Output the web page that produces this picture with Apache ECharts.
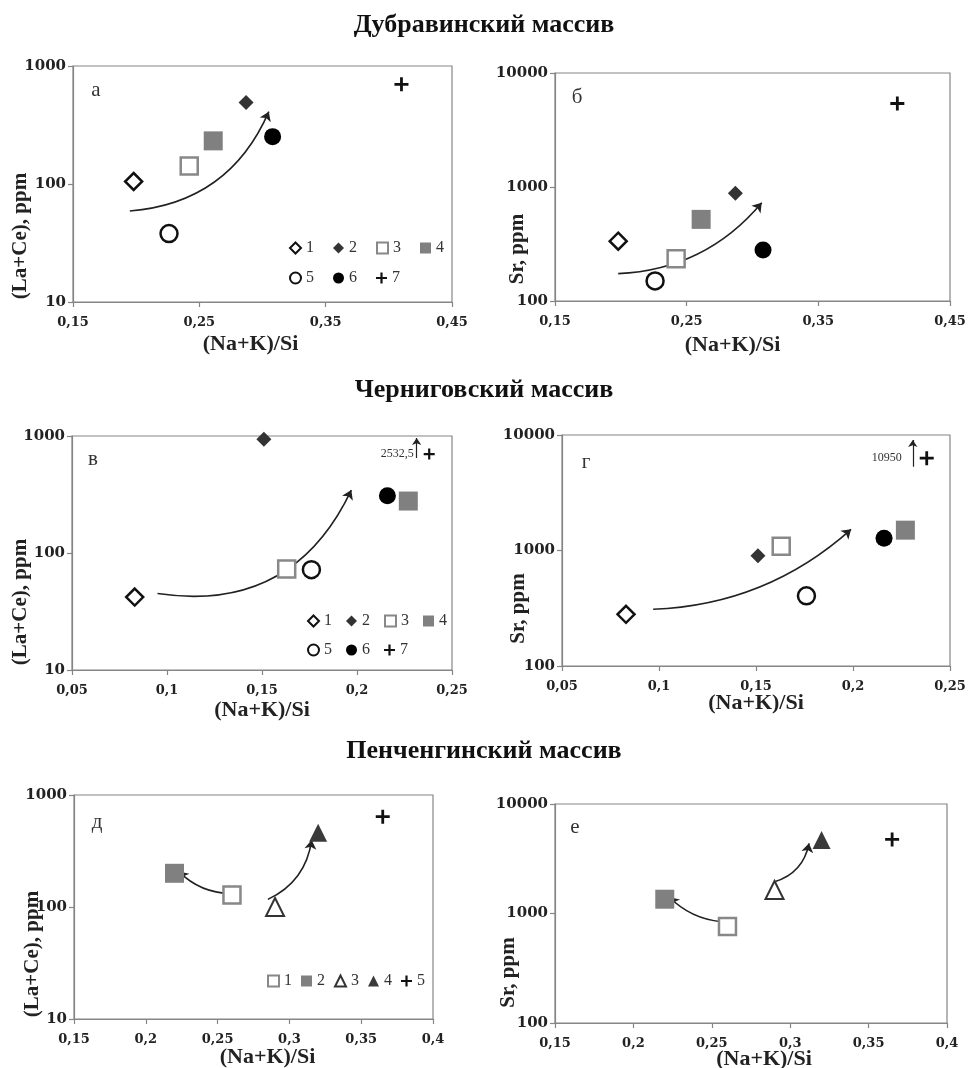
<!DOCTYPE html>
<html>
<head>
<meta charset="utf-8">
<title>(Na+K)/Si — (La+Ce), Sr</title>
<script src="https://cdn.jsdelivr.net/npm/echarts@6.0.0/dist/echarts.min.js"></script>
<style>
html, body { margin: 0; padding: 0; background: #fff; }
#main { width: 968px; height: 1068px; }
</style>
</head>
<body>
<div id="main"></div>
<script>
// ---- данные ----
// Дубравинский массив, группы 1..7
var dubX = [0.198, 0.287, 0.242, 0.261, 0.226, 0.308, 0.41];
var dubLaCe = [105, 490, 142, 232, 38, 252, 700];
var dubSr = [335, 880, 235, 520, 150, 280, 5400];
var dubTicks = [0.15, 0.25, 0.35, 0.45];
// Черниговский массив, группы 1..7 (точка 7 за пределами шкалы)
var chernX = [0.083, 0.151, 0.163, 0.227, 0.176, 0.216, 0.238];
var chernLaCe = [42, 940, 73, 278, 72, 309, 700];
var chernSr = [280, 900, 1090, 1500, 405, 1275, 6300];
var chernOffScale = ['2532,5', '10950'];
var chernTicks = [0.05, 0.1, 0.15, 0.2, 0.25];
// Пенченгинский массив, группы 1..5
var penX = [0.26, 0.22, 0.29, 0.32, 0.365];
var penLaCe = [128, 200, 100, 460, 640];
var penSr = [760, 1350, 1640, 4700, 4750];
var penTicks = [0.15, 0.2, 0.25, 0.3, 0.35, 0.4];

// стрелки трендов: [начало, конец]
var dubTrendLaCe = [[[0.195, 59], [0.305, 410]]];
var dubTrendSr = [[[0.198, 174], [0.307, 728]]];
var chernTrendLaCe = [[[0.095, 45], [0.197, 345]]];
var chernTrendSr = [[[0.097, 310], [0.199, 1525]]];
var penTrendLaCe = [[[0.259, 132], [0.223, 207]], [[0.285, 117], [0.3155, 396]]];
var penTrendSr = [[[0.256, 842], [0.223, 1406]], [[0.290, 1950], [0.312, 4375]]];
// стрелки "вне шкалы" для точки 7
var chernUpLaCe = [[0.2314, 650], [0.2314, 960]];
var chernUpSr = [[0.2308, 5300], [0.2308, 9050]];

// ---- оформление ----
var SERIF = '"Liberation Serif", "Times New Roman", serif';
var WIDE = '"DejaVu Serif", serif';
var FRAME = '#858585';
var PLUS = 'path://M4,0H6V4H10V6H6V10H4V6H0V4H4Z';

var dubStyle = [
	{ symbol : 'diamond', size : 17, color : '#fff', border : '#111', bw : 2.5 },
	{ symbol : 'diamond', size : 15, color : '#333' },
	{ symbol : 'rect', size : 17, color : '#fff', border : '#888', bw : 2.5 },
	{ symbol : 'rect', size : 19, color : '#808080' },
	{ symbol : 'circle', size : 17, color : '#fff', border : '#111', bw : 2.5 },
	{ symbol : 'circle', size : 17, color : '#000' },
	{ symbol : PLUS, size : 14, color : '#111' }
];
var penStyle = [
	{ symbol : 'rect', size : 17, color : '#fff', border : '#888', bw : 2.5 },
	{ symbol : 'rect', size : 19, color : '#808080' },
	{ symbol : 'triangle', size : 18, color : '#fff', border : '#333', bw : 2 },
	{ symbol : 'triangle', size : 18, color : '#3a3a3a' },
	{ symbol : PLUS, size : 14, color : '#111' }
];

// yShift / xShift - смещение подписей осей вдоль оси (как в исходнике Excel)
var panels = [
	{ id : 'a', box : [73, 66, 379, 236], xs : dubX, ys : dubLaCe, styles : dubStyle, ticks : dubTicks,
		xr : [0.15, 0.45], yr : [10, 1000], yName : '(La+Ce), ppm', yGap : 42, xGap : 31, yShift : 52, xShift : -12,
		trends : dubTrendLaCe, curv : [-0.3] },
	{ id : 'b', box : [555, 73, 395, 228], xs : dubX, ys : dubSr, styles : dubStyle, ticks : dubTicks,
		xr : [0.15, 0.45], yr : [100, 10000], yName : 'Sr, ppm', yGap : 27, xGap : 33, yShift : 62, xShift : -20,
		trends : dubTrendSr, curv : [-0.22] },
	{ id : 'v', box : [72, 436, 380, 234], xs : chernX, ys : chernLaCe, styles : dubStyle, ticks : chernTicks,
		xr : [0.05, 0.25], yr : [10, 1000], yName : '(La+Ce), ppm', yGap : 41, xGap : 29, yShift : 49, xShift : 0,
		trends : chernTrendLaCe, curv : [-0.37], up : chernUpLaCe, upText : chernOffScale[0], upDist : 10, plusSize : 11 },
	{ id : 'g', box : [562, 435, 388, 231], xs : chernX, ys : chernSr, styles : dubStyle, ticks : chernTicks,
		xr : [0.05, 0.25], yr : [100, 10000], yName : 'Sr, ppm', yGap : 33, xGap : 26, yShift : 58, xShift : 0,
		trends : chernTrendSr, curv : [-0.18], up : chernUpSr, upText : chernOffScale[1], upDist : 18 },
	{ id : 'd', box : [74, 795, 359, 224], xs : penX, ys : penLaCe, styles : penStyle, ticks : penTicks,
		xr : [0.15, 0.4], yr : [10, 1000], yName : '(La+Ce), ppm', yGap : 31, xGap : 27, yShift : 47, xShift : 14,
		trends : penTrendLaCe, curv : [0.2, -0.27] },
	{ id : 'e', box : [555, 804, 392, 219], xs : penX, ys : penSr, styles : penStyle, ticks : penTicks,
		xr : [0.15, 0.4], yr : [100, 10000], yName : 'Sr, ppm', yGap : 36, xGap : 25, yShift : 59, xShift : 13,
		trends : penTrendSr, curv : [0.18, -0.3] }
];

function fmtX(v) {
	return String(+(+v).toFixed(2)).replace('.', ',');
}
function fmtY(v) {
	return String(Math.round(v));
}
function legendName(name) {
	return name.split('-')[1];
}

var myChart = echarts.init(document.getElementById('main'));

var titleStyle = { fontFamily : SERIF, fontWeight : 'bold', fontSize : 26, color : '#111' };
var legendText = { fontFamily : SERIF, fontSize : 16, color : '#333' };

var option = {
	animation : false,
	backgroundColor : '#fff',
	title : [
		{ text : 'Дубравинский массив', left : 'center', top : 12, padding : 0, textStyle : titleStyle },
		{ text : 'Черниговский массив', left : 'center', top : 377, padding : 0, textStyle : titleStyle },
		{ text : 'Пенченгинский массив', left : 'center', top : 738, padding : 0, textStyle : titleStyle }
	],
	graphic : [],
	legend : [
		{ data : ['a-1', 'a-2', 'a-3', 'a-4'], left : 289, top : 240, itemGap : 19 },
		{ data : ['a-5', 'a-6', 'a-7'], left : 289, top : 270, itemGap : 19 },
		{ data : ['v-1', 'v-2', 'v-3', 'v-4'], left : 307, top : 613, itemGap : 14 },
		{ data : ['v-5', 'v-6', 'v-7'], left : 307, top : 642, itemGap : 14 },
		{ data : ['d-1', 'd-2', 'd-3', 'd-4', 'd-5'], left : 267, top : 973, itemGap : 9 }
	],
	grid : [],
	xAxis : [],
	yAxis : [],
	series : []
};

// общие настройки легенд
option.legend.forEach(function(lg) {
	lg.orient = 'horizontal';
	lg.padding = 0;
	lg.itemWidth = 11;
	lg.itemHeight = 11;
	lg.selectedMode = false;
	lg.formatter = legendName;
	lg.textStyle = legendText;
});

// буквы панелей
var letters = [['а', 96, 90], ['б', 577, 97], ['в', 93, 459], ['г', 586, 462], ['д', 97, 822], ['е', 575, 827]];
letters.forEach(function(l) {
	option.graphic.push({
		type : 'text', x : l[1], y : l[2],
		style : { text : l[0], font : '21px ' + SERIF, fill : '#333', align : 'center', verticalAlign : 'middle' }
	});
});

panels.forEach(function(p, i) {
	option.grid.push({
		left : p.box[0], top : p.box[1], width : p.box[2], height : p.box[3],
		show : true, borderColor : FRAME, borderWidth : 1.2, backgroundColor : 'transparent',
		containLabel : false, outerBoundsMode : 'none'
	});
	// сдвиг подписи оси X: паддинг с одной стороны смещает текст
	var xPad = p.xShift < 0 ? [0, -2 * p.xShift, 0, 0] : [0, 0, 0, 2 * p.xShift];
	option.xAxis.push({
		gridIndex : i, type : 'value', min : p.xr[0], max : p.xr[1],
		name : '(Na+K)/Si', nameLocation : 'middle', nameGap : p.xGap, nameMoveOverlap : false,
		nameTextStyle : { fontFamily : SERIF, fontWeight : 'bold', fontSize : 22, color : '#222', padding : xPad },
		axisLine : { show : true, onZero : false, lineStyle : { color : FRAME, width : 1.2 } },
		axisTick : { show : true, length : 5, customValues : p.ticks, lineStyle : { color : FRAME, width : 1.2 } },
		splitLine : { show : false },
		axisLabel : { margin : 14, customValues : p.ticks, formatter : fmtX,
			fontFamily : WIDE, fontWeight : 'bold', fontSize : 13, color : '#222' }
	});
	option.yAxis.push({
		gridIndex : i, type : 'log', logBase : 10, min : p.yr[0], max : p.yr[1],
		name : p.yName, nameLocation : 'middle', nameGap : p.yGap, nameMoveOverlap : false,
		nameTextStyle : { fontFamily : SERIF, fontWeight : 'bold', fontSize : 21, color : '#222',
			padding : [0, 2 * p.yShift, 0, 0] },
		axisLine : { show : true, onZero : false, lineStyle : { color : FRAME, width : 1.2 } },
		axisTick : { show : true, length : 5, lineStyle : { color : FRAME, width : 1.2 } },
		minorTick : { show : false },
		splitLine : { show : false },
		axisLabel : { margin : 7, formatter : fmtY,
			fontFamily : WIDE, fontWeight : 'bold', fontSize : 15, color : '#222' }
	});

	// точки групп пород
	for ( var k = 0; k < p.xs.length; k++) {
		var st = p.styles[k];
		var s = {
			type : 'scatter', name : p.id + '-' + (k + 1),
			xAxisIndex : i, yAxisIndex : i,
			data : [[p.xs[k], p.ys[k]]],
			symbol : st.symbol, symbolSize : st.size,
			itemStyle : { color : st.color, borderColor : st.border || st.color, borderWidth : st.bw || 0, opacity : 1 },
			emphasis : { disabled : true },
			z : 3
		};
		if (p.up && k == p.xs.length - 1) {
			if (p.plusSize) s.symbolSize = p.plusSize;
			s.label = {
				show : true, position : 'left', distance : p.upDist,
				formatter : p.upText,
				fontFamily : SERIF, fontSize : 12, color : '#333'
			};
		}
		option.series.push(s);
	}

	// стрелки трендов
	option.series.push({
		type : 'lines', coordinateSystem : 'cartesian2d', xAxisIndex : i, yAxisIndex : i,
		symbol : ['none', 'arrow'], symbolSize : 9,
		lineStyle : { color : '#222', width : 1.6, opacity : 1 },
		data : p.trends.map(function(t, j) {
			return { coords : t, lineStyle : { curveness : p.curv[j] } };
		}),
		silent : true, z : 2
	});

	// стрелка вверх для значения вне шкалы
	if (p.up) {
		option.series.push({
			type : 'lines', coordinateSystem : 'cartesian2d', xAxisIndex : i, yAxisIndex : i,
			symbol : ['none', 'arrow'], symbolSize : 7,
			lineStyle : { color : '#222', width : 1.2, opacity : 1, curveness : 0 },
			data : [{ coords : p.up }],
			silent : true, z : 2
		});
	}
});

myChart.setOption(option);
</script>
</body>
</html>
